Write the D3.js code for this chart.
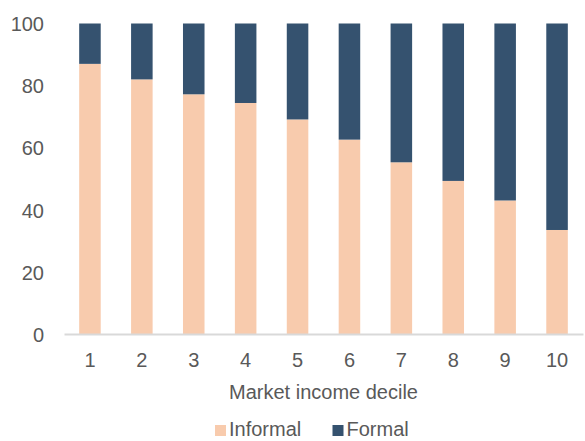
<!DOCTYPE html>
<html>
<head>
<meta charset="utf-8">
<script src="https://cdn.jsdelivr.net/npm/d3@7"></script>
<style>
  body { margin: 0; background: #fff; }
  svg { display: block; font-family: Arial, "Liberation Sans", sans-serif; }
</style>
</head>
<body>
<div id="chart"></div>
<script>
// chart data
const deciles = [ '1', '2', '3', '4', '5', '6', '7', '8', '9', '10' ];
const informal = [ 87, 82, 77.2, 74.4, 69.1, 62.6, 55.3, 49.3, 43, 33.5 ];
const formal = informal.map( ( v ) => 100 - v );
const yTicks = [ 0, 20, 40, 60, 80, 100 ];
const seriesNames = [ 'Informal', 'Formal' ];
const colors = [ '#F8CBAD', '#35526F' ];

const width = 585;
const height = 441;
const margin = { top: 23.5, right: 2, bottom: 107, left: 64 };
const fontSize = '20px';

const svg = d3.select( '#chart' )
	.append( 'svg' )
	.attr( 'width', width )
	.attr( 'height', height );

const x = d3.scaleBand()
	.domain( deciles )
	.range( [ margin.left, width - margin.right ] )
	.paddingInner( 0.585 )
	.paddingOuter( 0.2925 );

const y = d3.scaleLinear()
	.domain( [ 0, 100 ] )
	.range( [ height - margin.bottom, margin.top ] );

const rows = deciles.map( ( d, i ) => ( { decile: d, Informal: informal[ i ], Formal: formal[ i ] } ) );
const stacked = d3.stack().keys( seriesNames )( rows );

svg.append( 'g' )
	.selectAll( 'g' )
	.data( stacked )
	.join( 'g' )
	.attr( 'fill', ( d, i ) => colors[ i ] )
	.selectAll( 'rect' )
	.data( ( d ) => d )
	.join( 'rect' )
	.attr( 'x', ( d ) => x( d.data.decile ) )
	.attr( 'width', x.bandwidth() )
	.attr( 'y', ( d ) => y( d[ 1 ] ) )
	.attr( 'height', ( d ) => y( d[ 0 ] ) - y( d[ 1 ] ) );

// y axis labels
const yAxis = svg.append( 'g' )
	.attr( 'transform', `translate(${ margin.left - 20 },0)` )
	.call( d3.axisLeft( y ).tickValues( yTicks ).tickSize( 0 ).tickPadding( 0 ) );
yAxis.select( '.domain' ).remove();
yAxis.selectAll( 'text' )
	.attr( 'fill', '#595959' )
	.attr( 'font-size', fontSize )
	.attr( 'dy', '0.36em' )
	.style( 'font-family', 'Arial, "Liberation Sans", sans-serif' );

// x axis
const xAxis = svg.append( 'g' )
	.attr( 'transform', `translate(0,${ y( 0 ) })` )
	.call( d3.axisBottom( x ).tickSize( 0 ).tickPadding( 0 ) );
xAxis.select( '.domain' )
	.attr( 'stroke', '#D9D9D9' )
	.attr( 'stroke-width', 2 );
xAxis.selectAll( 'text' )
	.attr( 'fill', '#595959' )
	.attr( 'font-size', fontSize )
	.attr( 'dy', null )
	.attr( 'y', 33 )
	.style( 'font-family', 'Arial, "Liberation Sans", sans-serif' );

svg.append( 'text' )
	.attr( 'x', ( margin.left + width - margin.right ) / 2 )
	.attr( 'y', 399 )
	.attr( 'text-anchor', 'middle' )
	.attr( 'fill', '#595959' )
	.attr( 'font-size', fontSize )
	.text( 'Market income decile' );

// legend
const legendX = [ 215, 332.5 ];
const legend = svg.append( 'g' )
	.selectAll( 'g' )
	.data( seriesNames )
	.join( 'g' )
	.attr( 'transform', ( d, i ) => `translate(${ legendX[ i ] },425)` );

legend.append( 'rect' )
	.attr( 'width', 11 )
	.attr( 'height', 11 )
	.attr( 'fill', ( d, i ) => colors[ i ] );

legend.append( 'text' )
	.attr( 'x', 14 )
	.attr( 'y', 11 )
	.attr( 'fill', '#595959' )
	.attr( 'font-size', fontSize )
	.text( ( d ) => d );
</script>
</body>
</html>
